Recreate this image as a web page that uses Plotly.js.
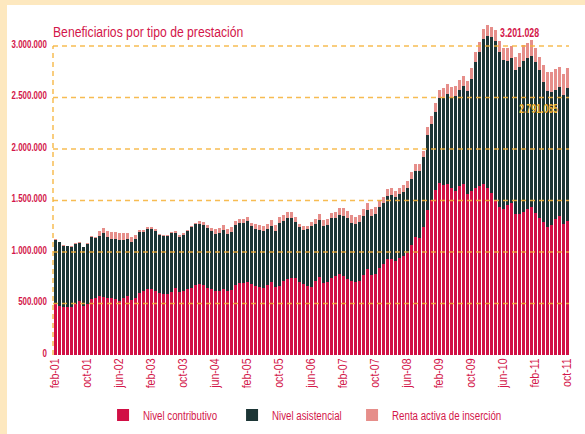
<!DOCTYPE html>
<html>
<head>
<meta charset="utf-8">
<script src="https://cdn.plot.ly/plotly-3.0.1.min.js"></script>
<style>
  html, body { margin: 0; padding: 0; background: #FDE8BF; width: 585px; height: 434px; overflow: hidden; }
  #chart { position: absolute; left: 7px; top: 5px; width: 578px; height: 429px; }
</style>
</head>
<body>
<div id="chart"></div>
<script>
// Months from feb-01 to oct-11
const categories = [
  'feb-01','mar-01','abr-01','may-01','jun-01','jul-01','ago-01','sep-01','oct-01','nov-01','dic-01',
  'ene-02','feb-02','mar-02','abr-02','may-02','jun-02','jul-02','ago-02','sep-02','oct-02','nov-02','dic-02',
  'ene-03','feb-03','mar-03','abr-03','may-03','jun-03','jul-03','ago-03','sep-03','oct-03','nov-03','dic-03',
  'ene-04','feb-04','mar-04','abr-04','may-04','jun-04','jul-04','ago-04','sep-04','oct-04','nov-04','dic-04',
  'ene-05','feb-05','mar-05','abr-05','may-05','jun-05','jul-05','ago-05','sep-05','oct-05','nov-05','dic-05',
  'ene-06','feb-06','mar-06','abr-06','may-06','jun-06','jul-06','ago-06','sep-06','oct-06','nov-06','dic-06',
  'ene-07','feb-07','mar-07','abr-07','may-07','jun-07','jul-07','ago-07','sep-07','oct-07','nov-07','dic-07',
  'ene-08','feb-08','mar-08','abr-08','may-08','jun-08','jul-08','ago-08','sep-08','oct-08','nov-08','dic-08',
  'ene-09','feb-09','mar-09','abr-09','may-09','jun-09','jul-09','ago-09','sep-09','oct-09','nov-09','dic-09',
  'ene-10','feb-10','mar-10','abr-10','may-10','jun-10','jul-10','ago-10','sep-10','oct-10','nov-10','dic-10',
  'ene-11','feb-11','mar-11','abr-11','may-11','jun-11','jul-11','ago-11','sep-11','oct-11'
];

const tickLabels = ['feb-01','oct-01','jun-02','feb-03','oct-03','jun-04','feb-05','oct-05','jun-06',
  'feb-07','oct-07','jun-08','feb-09','oct-09','jun-10','feb-11','oct-11'];

const nivelContributivo = [
  495000,478000,465000,462000,466000,500000,522000,478000,495000,540000,550000,
  572000,566000,556000,550000,541000,528000,550000,572000,534000,556000,605000,621000,
  641000,637000,621000,599000,590000,588000,615000,647000,615000,622000,640000,655000,
  680000,686000,680000,655000,640000,625000,622000,640000,620000,635000,680000,696000,
  700000,706000,690000,670000,660000,655000,680000,712000,660000,670000,718000,740000,
  750000,744000,712000,690000,668000,663000,718000,755000,698000,706000,744000,770000,
  782000,770000,738000,715000,706000,722000,777000,838000,777000,788000,841000,880000,
  935000,935000,916000,945000,960000,995000,1072000,1149000,1133000,1240000,1408000,1508000,
  1602000,1673000,1650000,1660000,1618000,1595000,1641000,1657000,1563000,1595000,1618000,1641000,
  1657000,1625000,1570000,1505000,1440000,1417000,1456000,1479000,1366000,1372000,1392000,1417000,
  1434000,1376000,1333000,1288000,1243000,1262000,1320000,1349000,1272000,1301000
];

const nivelAsistencial = [
  620000,615000,593000,592000,585000,582000,566000,567000,580000,606000,582000,
  586000,614000,586000,579000,588000,588000,566000,551000,560000,570000,593000,573000,
  581000,585000,583000,563000,562000,564000,566000,542000,531000,545000,562000,590000,
  590000,589000,583000,581000,563000,551000,559000,576000,556000,563000,586000,588000,
  584000,595000,559000,549000,549000,546000,543000,543000,547000,608000,583000,587000,
  577000,546000,526000,527000,552000,587000,550000,556000,558000,556000,583000,564000,
  577000,583000,589000,570000,566000,572000,572000,569000,572000,581000,599000,592000,
  612000,618000,615000,619000,625000,629000,636000,640000,653000,678000,732000,738000,
  761000,819000,848000,874000,890000,920000,932000,958000,1000000,1085000,1223000,1298000,
  1408000,1475028,1514000,1544000,1499000,1447000,1401000,1401000,1401000,1427000,1465000,1463000,
  1472000,1472000,1434000,1366000,1320000,1295000,1253000,1256000,1252000,1294065
];

const rentaActiva = [
  8000,7000,7000,7000,7000,10000,10000,7000,10000,10000,13000,
  49000,49000,65000,68000,68000,65000,65000,58000,55000,39000,16000,23000,
  20000,20000,16000,16000,16000,16000,16000,16000,16000,13000,13000,10000,
  10000,23000,32000,29000,32000,49000,49000,49000,49000,42000,32000,36000,
  36000,36000,36000,49000,49000,49000,52000,55000,58000,65000,58000,58000,
  58000,45000,32000,39000,36000,45000,52000,55000,55000,58000,55000,58000,
  71000,71000,71000,74000,71000,65000,65000,65000,65000,65000,65000,65000,
  65000,65000,61000,61000,65000,65000,65000,65000,68000,65000,70000,78000,
  80000,81000,91000,94000,97000,100000,97000,97000,97000,103000,104000,103000,
  100000,101000,104000,106000,110000,120000,127000,123000,129000,130000,153000,146000,
  152000,129000,129000,162000,188000,187000,204000,188000,201000,196000
];

const gridValues = [500000, 1000000, 1500000, 2000000, 2500000, 3000000];
const peakLabel = '3.201.028';
const lastLabel = '2.791.065';

const FONT = "'Liberation Sans', Arial, sans-serif";
const RED = '#D3164A';

const traces = [
  { type: 'bar', name: 'Nivel contributivo', x: categories, y: nivelContributivo, legendwidth: 84,
    marker: { color: '#D10F45', line: { width: 0 } } },
  { type: 'bar', name: 'Nivel asistencial', x: categories, y: nivelAsistencial, legendwidth: 75,
    marker: { color: '#1C3535', line: { width: 0 } } },
  { type: 'bar', name: 'Renta activa de inserción', x: categories, y: rentaActiva, legendwidth: 115,
    marker: { color: '#E68E8A', line: { width: 0 } } }
];

const gridColor = 'rgba(246,176,52,0.85)';
const shapes = gridValues.map(v => ({
  type: 'line', xref: 'paper', yref: 'y', x0: 0, x1: 1, y0: v, y1: v, layer: 'above',
  line: { color: gridColor, width: 1.5, dash: '5px,4px' }
}));
shapes.push({
  type: 'line', xref: 'paper', yref: 'y', x0: 0, x1: 0, y0: 0, y1: gridValues[gridValues.length - 1],
  layer: 'above', line: { color: gridColor, width: 1.5, dash: '5px,4px' }
});

const layout = {
  width: 578, height: 429,
  margin: { l: 46, r: 16, t: 15, b: 79, pad: 0, autoexpand: false },
  paper_bgcolor: '#FFFFFF', plot_bgcolor: '#FFFFFF',
  barmode: 'stack', bargap: 0.25,
  separators: ',.',
  font: { family: FONT, color: RED },
  title: {
    text: 'Beneficiarios por tipo de prestación',
    font: { family: FONT, size: 14, color: RED },
    xref: 'container', yref: 'container',
    x: 46 / 578, xanchor: 'left', y: 1 - 27.5 / 429, yanchor: 'middle'
  },
  xaxis: {
    type: 'category', range: [-0.625, categories.length - 0.625],
    tickmode: 'array', tickvals: tickLabels, ticktext: tickLabels,
    tickangle: -90, tickfont: { family: FONT, size: 12, color: RED },
    showgrid: false, zeroline: false, showline: false, ticks: ''
  },
  yaxis: {
    range: [0, 3252427], tickmode: 'array', tickvals: [0].concat(gridValues),
    tickformat: ',d', ticklabelshift: -2,
    tickfont: { family: FONT, size: 11, color: RED, weight: 'bold' },
    showgrid: false, zeroline: false, showline: false,
    ticks: 'outside', ticklen: 3, tickcolor: 'rgba(0,0,0,0)'
  },
  showlegend: true,
  legend: {
    orientation: 'h', x: 0.097, xanchor: 'left', y: -0.179, yanchor: 'middle',
    font: { family: FONT, size: 12, color: RED }, traceorder: 'normal',
    bgcolor: 'rgba(0,0,0,0)'
  },
  shapes: shapes,
  annotations: [
    { text: peakLabel, xref: 'paper', yref: 'paper', x: (491 - 46) / 516, y: (350 - 28) / 335,
      xanchor: 'left', yanchor: 'middle', align: 'left', showarrow: false,
      font: { family: FONT, size: 13, color: '#D3164A', weight: 'bold' } },
    { text: lastLabel, xref: 'paper', yref: 'paper', x: (510 - 46) / 516, y: (350 - 103) / 335,
      xanchor: 'left', yanchor: 'middle', align: 'left', showarrow: false,
      font: { family: FONT, size: 13, color: '#EEB130', weight: 'bold' } }
  ]
};

// Condense rendered text (the reference uses a condensed typeface)
function condense(selector, factor) {
  document.querySelectorAll('#chart ' + selector).forEach(t => {
    const L = t.getComputedTextLength();
    if (L > 0) {
      t.setAttribute('textLength', (L * factor).toFixed(2));
      t.setAttribute('lengthAdjust', 'spacingAndGlyphs');
    }
  });
}

Plotly.newPlot('chart', traces, layout, { staticPlot: true, displayModeBar: false }).then(() => {
  condense('.ytick text', 0.72);
  condense('.xtick text', 0.88);
  condense('.gtitle', 0.87);
  condense('.legendtext', 0.81);
  condense('.annotation-text', 0.675);
});
</script>
</body>
</html>
